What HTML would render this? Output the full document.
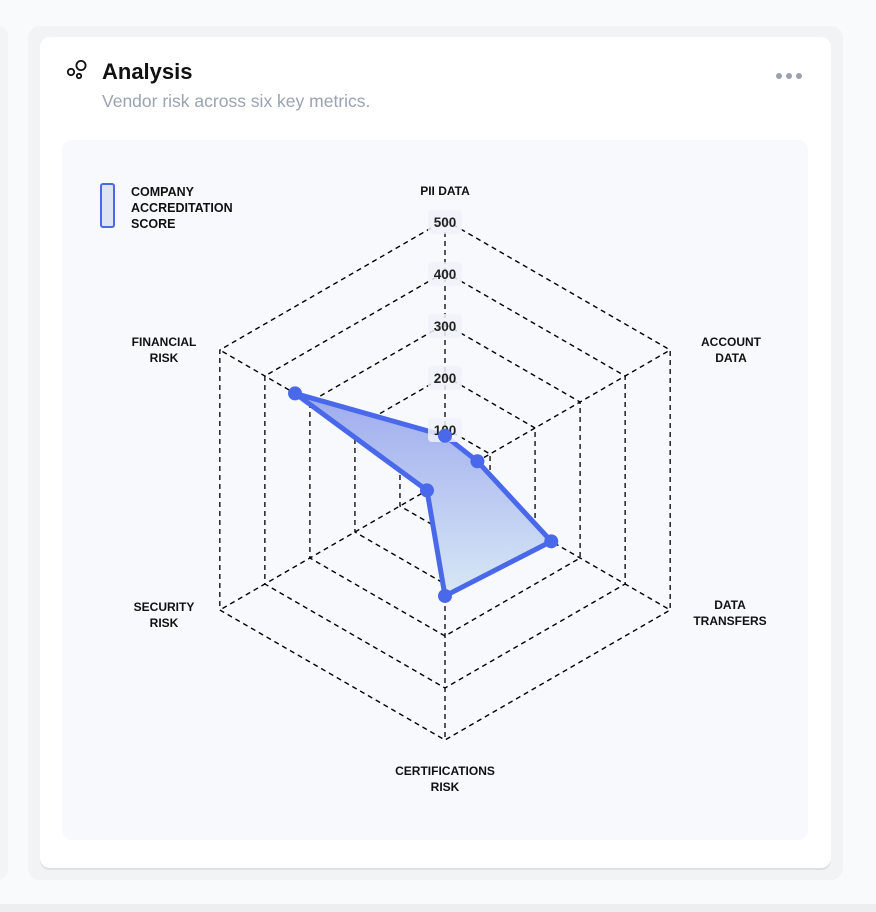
<!DOCTYPE html>
<html><head><meta charset="utf-8"><style>
body{margin:0;width:876px;height:912px;background:#f9fafc;font-family:"Liberation Sans",sans-serif;position:relative;overflow:hidden}
.abs{position:absolute}
</style></head><body>
<div class="abs" style="left:-20px;top:26px;width:28px;height:854px;background:#f3f4f6;border-radius:10px"></div>
<div class="abs" style="left:28px;top:26px;width:815px;height:854px;background:#f2f3f5;border-radius:12px"></div>
<div class="abs" style="left:40px;top:37px;width:791px;height:831px;background:#fff;border-radius:10px;box-shadow:0 2px 0 #dcdfe4"></div>
<div class="abs" style="left:0;top:904px;width:876px;height:8px;background:#eceef0"></div>
<svg class="abs" style="left:64px;top:58px" width="28" height="24">
<circle cx="7" cy="14" r="3.2" fill="none" stroke="#111" stroke-width="1.8"/>
<circle cx="17" cy="7.5" r="4.6" fill="none" stroke="#111" stroke-width="1.8"/>
<circle cx="15" cy="18" r="2.2" fill="none" stroke="#111" stroke-width="1.8"/>
</svg>
<div class="abs" style="left:102px;top:59px;font-size:22px;font-weight:bold;color:#111">Analysis</div>
<div class="abs" style="left:102px;top:91px;font-size:17.5px;color:#9aa3b2">Vendor risk across six key metrics.</div>
<div class="abs" style="left:775px;top:68px;width:28px;height:10px">
<svg width="28" height="10"><circle cx="4" cy="5" r="3" fill="#9aa1ad"/><circle cx="14" cy="5" r="3" fill="#9aa1ad"/><circle cx="24" cy="5" r="3" fill="#9aa1ad"/></svg></div>
<div class="abs" style="left:62px;top:140px;width:746px;height:700px;background:#f8f9fd;border-radius:10px"></div>
<div class="abs" style="left:100px;top:183px;width:11px;height:41px;background:#dfe4f5;border:2px solid #4a68ea;border-radius:3px"></div>
<div class="abs" style="left:131px;top:184px;font-size:12.5px;font-weight:bold;line-height:16px;color:#111">COMPANY<br>ACCREDITATION<br>SCORE</div>
<svg id="chart" class="abs" style="left:0;top:0" width="876" height="912"></svg>
<script>
const categories=["PII DATA","ACCOUNT DATA","DATA TRANSFERS","CERTIFICATIONS RISK","SECURITY RISK","FINANCIAL RISK"];
const scores=[85,72,236,223,40,333];
const ticks=[100,200,300,400,500];
const NS="http://www.w3.org/2000/svg";
const svg=document.getElementById("chart");
const cx=445,cy=480,R=260,maxV=500;
function pt(i,v){const a=-Math.PI/2+i*Math.PI/3;const r=v/maxV*R;return [cx+r*Math.cos(a),cy+r*Math.sin(a)];}
function mk(t,attrs){const e=document.createElementNS(NS,t);for(const k in attrs)e.setAttribute(k,attrs[k]);svg.appendChild(e);return e;}
const defs=mk("defs",{});
defs.innerHTML='<linearGradient id="g" x1="0" y1="0" x2="0" y2="1"><stop offset="0" stop-color="#9eabee"/><stop offset="1" stop-color="#d8e8f5"/></linearGradient>';
ticks.forEach(t=>{
  const p=categories.map((c,i)=>pt(i,t).join(",")).join(" ");
  const e=mk("polygon",{points:p,fill:"none",stroke:"#000","stroke-width":1.3,"stroke-dasharray":"5 4"});
  
  
});
categories.forEach((c,i)=>{
  const [x,y]=pt(i,maxV);
  const e=mk("line",{x1:cx,y1:cy,x2:x,y2:y,stroke:"#000","stroke-width":1.3,"stroke-dasharray":"5 4"});
  
  
});
const poly=mk("polygon",{points:scores.map((v,i)=>pt(i,v).join(",")).join(" "),fill:"url(#g)",stroke:"#4a68ea","stroke-width":5,"stroke-linejoin":"round"});


ticks.forEach(t=>{
  const y=cy-t/maxV*R;
  const b=mk("rect",{x:cx-17,y:y-10,width:34,height:24,rx:4,fill:"#f0f2f9",opacity:0.85});
  
  
  const e=mk("text",{x:cx,y:y+7,"text-anchor":"middle","font-size":13.5,"font-weight":"bold",fill:"#222","font-family":"Liberation Sans, sans-serif"});
  e.textContent=t;
  
  
});
scores.forEach((v,i)=>{
  const [x,y]=pt(i,v);
  const d=mk("circle",{cx:x,cy:y,r:7,fill:"#4a68ea"});
  
  
});
const labelPos=[[445,195],[731,346],[730,609],[445,775],[164,611],[164,346]];
categories.forEach((c,i)=>{
  const words=c.split(" ");
  const lines=(i===0)?[c]:words;
  const e=mk("text",{"text-anchor":"middle","font-size":12,"font-weight":"bold",fill:"#111","font-family":"Liberation Sans, sans-serif"});
  lines.forEach((w,j)=>{const s=document.createElementNS(NS,"tspan");s.setAttribute("x",labelPos[i][0]);s.setAttribute("y",labelPos[i][1]+j*16);s.textContent=w;e.appendChild(s);});
  
  
});
</script>
</body></html>
